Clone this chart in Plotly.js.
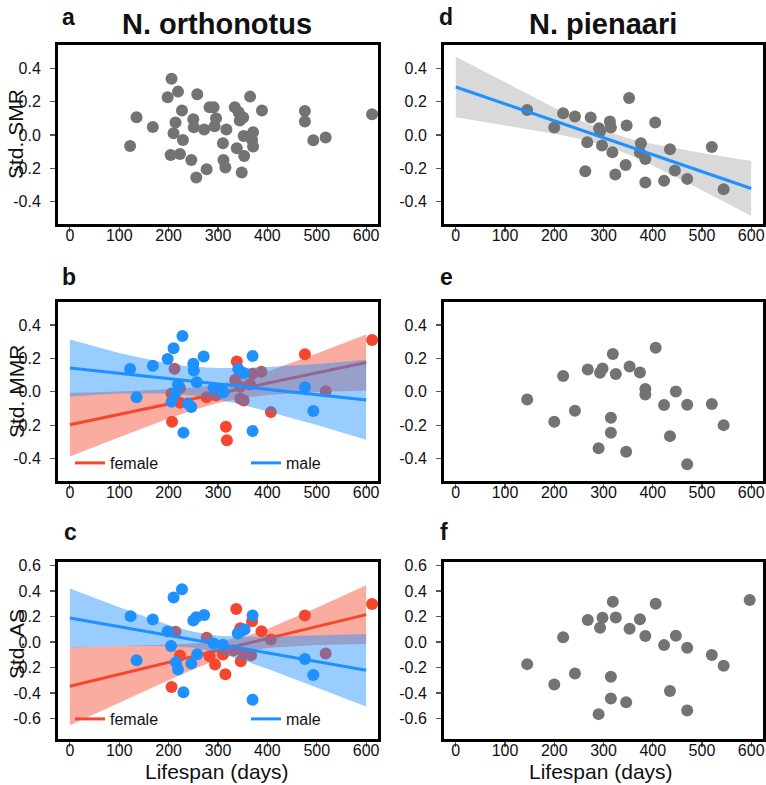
<!DOCTYPE html>
<html><head><meta charset="utf-8">
<script src="https://cdn.plot.ly/plotly-3.0.1.min.js"></script>
<style>html,body{margin:0;padding:0;background:#fff}#chart{width:766px;height:785px}</style>
</head><body><div id="chart"></div>
<script>
// ---------- data ----------
const xTickVals = [0,100,200,300,400,500,600];
const xTickText = ['0','100','200','300','400','500','600'];
const yTickVals4 = [-0.4,-0.2,0,0.2,0.4];
const yTickText4 = ['-0.4','-0.2','0.0','0.2','0.4'];
const yTickVals6 = [-0.6,-0.4,-0.2,0,0.2,0.4,0.6];
const yTickText6 = ['-0.6','-0.4','-0.2','0.0','0.2','0.4','0.6'];

// a: N. orthonotus, Std. SMR
const orthSmrX = [122,135,168,198,206,219,227,214,210,229,204,223,246,250,251,258,256,272,277,283,291,296,293,317,310,311,315,334,342,346,344,351,338,353,348,352,365,371,369,371,389,476,476,493,518,612];
const orthSmrY = [-0.066,0.106,0.048,0.226,0.338,0.26,0.146,0.074,0.01,-0.03,-0.12,-0.114,-0.15,0.094,0.046,0.244,-0.256,0.032,-0.206,0.166,0.166,0.1,0.052,0.032,-0.05,-0.15,-0.196,0.166,0.136,0.094,0.086,0.104,-0.08,-0.126,-0.226,-0.006,0.23,0.016,-0.03,-0.07,0.146,0.144,0.08,-0.032,-0.016,0.124];

// b: N. orthonotus, Std. MMR by sex
const orthMmrFemaleX = [212,206,207,223,223,277,296,316,318,338,335,345,352,345,370,365,388,407,476,518,612];
const orthMmrFemaleY = [0.138,-0.01,-0.18,-0.066,0.023,-0.033,-0.023,-0.21,-0.29,0.182,0.072,-0.04,-0.052,0.03,0.108,0.043,0.12,-0.122,0.225,0.003,0.31];
const orthMmrMaleX = [122,135,168,198,210,228,219,214,206,230,239,246,250,251,257,271,291,308,311,341,352,370,370,476,493];
const orthMmrMaleY = [0.136,-0.033,0.156,0.196,0.261,0.334,0.043,-0.007,-0.06,-0.245,-0.07,-0.092,0.168,0.128,0.057,0.211,0.023,0.009,-0.003,0.136,0.112,0.215,-0.235,0.027,-0.116];

// c: N. orthonotus, Std. AS by sex
const orthAsFemaleX = [214,206,223,277,283,294,310,315,337,345,346,331,352,367,369,388,407,476,518,612];
const orthAsFemaleY = [0.08,-0.352,-0.106,0.033,-0.111,-0.176,-0.098,-0.252,0.26,0.108,-0.15,-0.067,-0.093,-0.103,0.163,0.085,0.02,0.208,-0.09,0.299];
const orthAsMaleX = [123,135,168,198,205,210,227,215,219,230,246,250,256,258,272,291,310,340,346,354,370,370,476,493];
const orthAsMaleY = [0.203,-0.142,0.176,0.082,-0.03,0.349,0.414,-0.158,-0.216,-0.394,-0.169,0.169,0.195,-0.095,0.213,-0.012,-0.022,0.067,0.082,0.098,0.208,-0.453,-0.132,-0.258];

// d: N. pienaari, Std. SMR
const pienSmrX = [145,200,218,242,274,267,263,291,293,297,313,315,318,324,347,352,345,376,374,385,385,405,423,435,445,470,520,544];
const pienSmrY = [0.15,0.044,0.13,0.11,0.104,-0.044,-0.218,0.04,0.02,-0.064,0.08,0.044,-0.104,-0.238,0.056,0.222,-0.18,-0.05,-0.106,-0.144,-0.286,0.074,-0.276,-0.086,-0.214,-0.264,-0.072,-0.326];

// e: N. pienaari, Std. MMR
const pienMmrX = [145,200,218,242,268,293,298,290,319,315,315,325,346,353,374,385,385,406,423,435,447,470,470,520,544];
const pienMmrY = [-0.046,-0.18,0.094,-0.114,0.134,0.114,0.14,-0.338,0.226,-0.156,-0.246,0.106,-0.36,0.152,0.116,0.016,-0.016,0.264,-0.08,-0.266,0.002,-0.078,-0.434,-0.074,-0.2];

// f: N. pienaari, Std. AS
const pienAsX = [145,200,218,242,268,298,293,290,319,315,315,325,346,353,374,385,406,423,435,447,470,470,520,544,597];
const pienAsY = [-0.173,-0.332,0.037,-0.246,0.173,0.19,0.112,-0.565,0.316,-0.272,-0.442,0.193,-0.471,0.105,0.178,0.047,0.3,-0.024,-0.384,0.05,-0.044,-0.536,-0.102,-0.186,0.33];

// fitted lines (at lifespan 0 and 600) and confidence bands
const fitX = [0,600];
const mmrFemaleFit = [-0.198,0.176];
const mmrMaleFit = [0.142,-0.049];
const asFemaleFit = [-0.347,0.215];
const asMaleFit = [0.189,-0.221];
const pienSmrFit = [0.288,-0.322];

const bandX = [0,100,200,250,300,350,400,500,600];
const mmrFemaleUpper = [-0.008,0.001,0.015,0.026,0.045,0.078,0.122,0.230,0.344];
const mmrFemaleLower = [-0.388,-0.273,-0.161,-0.110,-0.067,-0.038,-0.020,-0.002,0.008];
const mmrMaleUpper = [0.314,0.233,0.168,0.150,0.142,0.142,0.148,0.167,0.192];
const mmrMaleLower = [-0.028,-0.011,-0.010,-0.023,-0.046,-0.078,-0.116,-0.199,-0.288];
const asFemaleUpper = [-0.041,-0.032,-0.021,-0.012,0.004,0.039,0.103,0.268,0.445];
const asFemaleLower = [-0.653,-0.474,-0.299,-0.214,-0.136,-0.077,-0.047,-0.024,-0.015];
const asMaleUpper = [0.420,0.273,0.134,0.080,0.050,0.042,0.042,0.051,0.064];
const asMaleLower = [-0.042,-0.031,-0.030,-0.044,-0.082,-0.142,-0.210,-0.357,-0.506];
const pienSmrUpper = [0.470,0.314,0.163,0.091,0.028,-0.020,-0.054,-0.108,-0.157];
const pienSmrLower = [0.106,0.058,0.007,-0.023,-0.062,-0.116,-0.184,-0.332,-0.487];

// ---------- styling ----------
const W = 766, H = 785;
const px = v => v / W;
const py = v => 1 - v / H;
const FONT = 'Liberation Sans, Arial, Helvetica, sans-serif';
const GREY = '#737373';
const RED = '#f5472e';
const BLUE = '#1e90ff';
const RED_BAND = 'rgba(245,71,46,0.45)';
const BLUE_BAND = 'rgba(30,144,255,0.45)';
const GREY_BAND = 'rgba(150,150,150,0.36)';
const MS = 12;

function pts(x, y, color, xa, ya) {
  return {x, y, xaxis: xa, yaxis: ya, type: 'scatter', mode: 'markers',
    marker: {size: MS, color, line: {width: 0}}, showlegend: false, hoverinfo: 'skip'};
}
function band(xs, up, lo, fill, xa, ya) {
  return {x: xs.concat(xs.slice().reverse()), y: up.concat(lo.slice().reverse()),
    xaxis: xa, yaxis: ya, type: 'scatter', mode: 'lines', fill: 'toself',
    fillcolor: fill, line: {width: 0, color: 'rgba(0,0,0,0)'}, showlegend: false, hoverinfo: 'skip'};
}
function fit(y, color, xa, ya, name, legend) {
  const t = {x: fitX, y, xaxis: xa, yaxis: ya, type: 'scatter', mode: 'lines',
    line: {color, width: 3}, hoverinfo: 'skip', showlegend: !!name};
  if (name) { t.name = name; t.legend = legend; }
  return t;
}

const data = [
  // a
  pts(orthSmrX, orthSmrY, GREY, 'x', 'y'),
  // d
  band(bandX, pienSmrUpper, pienSmrLower, GREY_BAND, 'x2', 'y2'),
  pts(pienSmrX, pienSmrY, GREY, 'x2', 'y2'),
  fit(pienSmrFit, BLUE, 'x2', 'y2'),
  // b
  pts(orthMmrFemaleX, orthMmrFemaleY, RED, 'x3', 'y3'),
  band(bandX, mmrFemaleUpper, mmrFemaleLower, RED_BAND, 'x3', 'y3'),
  fit(mmrFemaleFit, RED, 'x3', 'y3', 'female', 'legend'),
  band(bandX, mmrMaleUpper, mmrMaleLower, BLUE_BAND, 'x3', 'y3'),
  pts(orthMmrMaleX, orthMmrMaleY, BLUE, 'x3', 'y3'),
  fit(mmrMaleFit, BLUE, 'x3', 'y3', 'male', 'legend'),
  // e
  pts(pienMmrX, pienMmrY, GREY, 'x4', 'y4'),
  // c
  pts(orthAsFemaleX, orthAsFemaleY, RED, 'x5', 'y5'),
  band(bandX, asFemaleUpper, asFemaleLower, RED_BAND, 'x5', 'y5'),
  fit(asFemaleFit, RED, 'x5', 'y5', 'female', 'legend2'),
  band(bandX, asMaleUpper, asMaleLower, BLUE_BAND, 'x5', 'y5'),
  pts(orthAsMaleX, orthAsMaleY, BLUE, 'x5', 'y5'),
  fit(asMaleFit, BLUE, 'x5', 'y5', 'male', 'legend2'),
  // f
  pts(pienAsX, pienAsY, GREY, 'x6', 'y6')
];

const colL = [px(58), px(378)];
const colR = [px(444), px(763)];
const row1 = [py(224), py(45)];
const row2 = [py(481), py(301.7)];
const row3 = [py(739), py(561.7)];

function xax(domain, anchor) {
  return {domain, anchor, range: [-24, 624], tickmode: 'array', tickvals: xTickVals, ticktext: xTickText,
    ticks: 'outside', ticklen: 5, tickwidth: 1.2, tickcolor: '#555', ticklabelstandoff: -10,
    showline: true, linecolor: '#000', linewidth: 3, mirror: true,
    showgrid: false, zeroline: false, tickfont: {family: FONT, size: 16, color: '#111'}, fixedrange: true};
}
function yax(domain, anchor, wide) {
  return {domain, anchor, range: wide ? [-0.76, 0.63] : [-0.535, 0.54], tickmode: 'array',
    tickvals: wide ? yTickVals6 : yTickVals4, ticktext: wide ? yTickText6 : yTickText4,
    ticks: 'outside', ticklen: 5, tickwidth: 1.2, tickcolor: '#555', ticklabelstandoff: 6,
    showline: true, linecolor: '#000', linewidth: 3, mirror: true,
    showgrid: false, zeroline: false, tickfont: {family: FONT, size: 16, color: '#111'}, fixedrange: true};
}

function ann(text, x, y, size, opts) {
  return Object.assign({text, x: px(x), y: py(y), xref: 'paper', yref: 'paper', showarrow: false,
    xanchor: 'center', yanchor: 'middle', font: {family: FONT, size, color: '#111'}}, opts || {});
}

const annotations = [
  ann('<b>N. orthonotus</b>', 217, 24, 29),
  ann('<b>N. pienaari</b>', 603, 24, 29),
  ann('<b>a</b>', 60, 17, 23, {xanchor: 'left'}),
  ann('<b>d</b>', 437, 17, 23, {xanchor: 'left'}),
  ann('<b>b</b>', 60, 277, 23, {xanchor: 'left'}),
  ann('<b>e</b>', 438, 277, 23, {xanchor: 'left'}),
  ann('<b>c</b>', 62, 532, 23, {xanchor: 'left'}),
  ann('<b>f</b>', 438, 532, 23, {xanchor: 'left'}),
  ann('Std. SMR', 16, 134, 21, {textangle: -90}),
  ann('Std. MMR', 16, 392, 21, {textangle: -90}),
  ann('Std. AS', 16, 644, 21, {textangle: -90}),
  ann('Lifespan (days)', 217, 771, 21),
  ann('Lifespan (days)', 601, 771, 21)
];

const legendBase = {orientation: 'h', xanchor: 'left', yanchor: 'middle', bgcolor: 'rgba(0,0,0,0)',
  borderwidth: 0, font: {family: FONT, size: 16, color: '#111'}, entrywidth: 131, itemwidth: 30,
  itemclick: false, itemdoubleclick: false};

const layout = {
  width: W, height: H, margin: {l: 0, r: 0, t: 0, b: 0},
  paper_bgcolor: '#fff', plot_bgcolor: '#fff',
  font: {family: FONT},
  xaxis: xax(colL, 'y'), yaxis: yax(row1, 'x'),
  xaxis2: xax(colR, 'y2'), yaxis2: yax(row1, 'x2'),
  xaxis3: xax(colL, 'y3'), yaxis3: yax(row2, 'x3'),
  xaxis4: xax(colR, 'y4'), yaxis4: yax(row2, 'x4'),
  xaxis5: xax(colL, 'y5'), yaxis5: yax(row3, 'x5', true),
  xaxis6: xax(colR, 'y6'), yaxis6: yax(row3, 'x6', true),
  legend: Object.assign({x: px(70), y: py(463)}, legendBase),
  legend2: Object.assign({x: px(70), y: py(719)}, legendBase),
  annotations,
  showlegend: true
};

Plotly.newPlot('chart', data, layout, {displayModeBar: false, staticPlot: true});
</script></body></html>
